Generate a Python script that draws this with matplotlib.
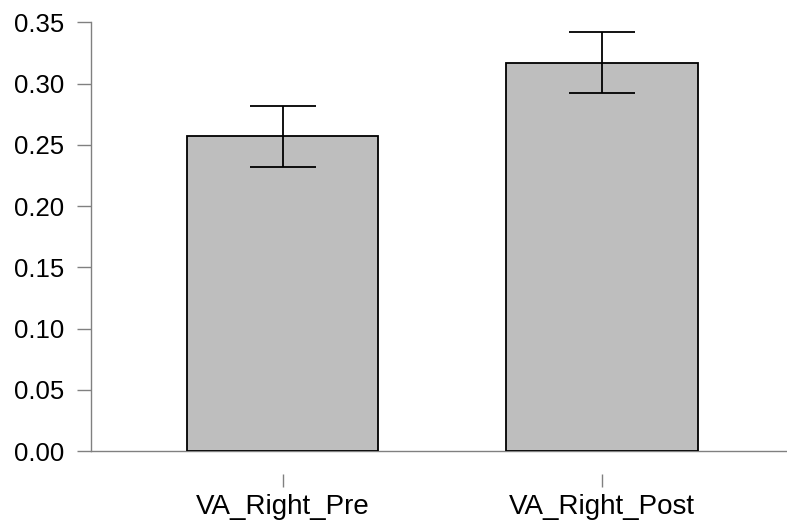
import matplotlib
matplotlib.use("Agg")
import matplotlib.pyplot as plt

# datos
condiciones = ["VA_Right_Pre", "VA_Right_Post"]
medias = [0.257, 0.317]
errores = [0.025, 0.025]

plt.rcParams['font.family'] = ['Liberation Sans', 'DejaVu Sans']

fig = plt.figure(figsize=(7.87, 5.24), dpi=100)
ax = fig.add_axes([0.1156, 0.1393, 0.8844, 0.8181])

x = list(range(len(condiciones)))
ax.bar(x, medias, width=0.6, color='#bebebe', edgecolor='black', linewidth=1.3, zorder=2)
ax.errorbar(x, medias, yerr=errores, fmt='none', ecolor='black', elinewidth=1.3,
            capsize=23.5, capthick=1.3, zorder=3)

ax.set_xlim(-0.6, 1.58)
ax.set_ylim(0, 0.35)
ax.set_yticks([0.0, 0.05, 0.10, 0.15, 0.20, 0.25, 0.30, 0.35])
ax.set_yticklabels(["%.2f" % v for v in ax.get_yticks()])
ax.set_xticks(x)
ax.set_xticklabels(condiciones)

# linea base en cero
ax.axhline(0, color='#808080', linewidth=1.0, clip_on=False, zorder=1)

for s in ['top', 'right']:
    ax.spines[s].set_visible(False)
ax.spines['left'].set_color('#808080')
ax.spines['left'].set_linewidth(1.0)
ax.spines['bottom'].set_position(('outward', 16.5))
ax.spines['bottom'].set_visible(False)

ax.tick_params(axis='y', length=10, width=1.0, color='#808080', labelsize=18.5, pad=9)
ax.tick_params(axis='x', length=9.5, width=1.0, color='#808080', labelsize=20, pad=5)

fig.savefig("out.png", dpi=100)
